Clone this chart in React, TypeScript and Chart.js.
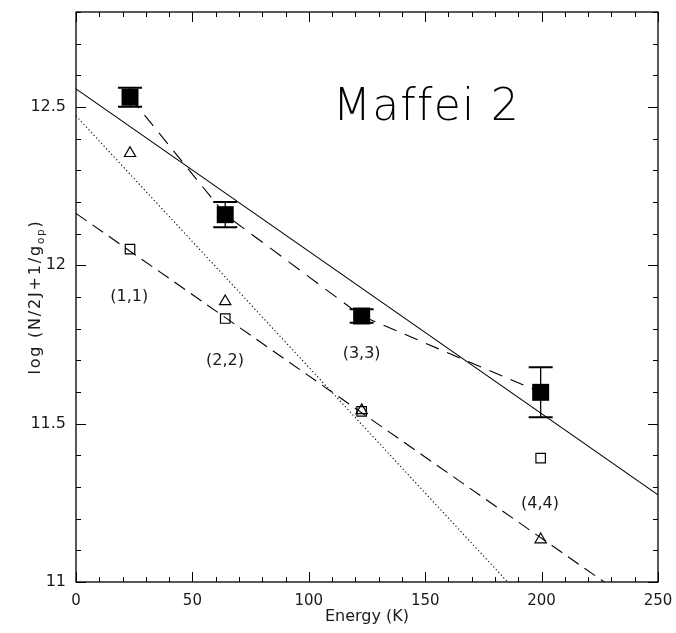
import React, { useEffect, useRef } from "react";
import { Chart, registerables } from "chart.js";

Chart.register(...registerables);

// ---- data ----
const energies = [23.2, 64.1, 122.7, 199.6]; // K
const totalLogN = [12.531, 12.16, 11.84, 11.599];
const totalErr = [0.03, 0.04, 0.021, 0.079];
const triangleLogN = [12.354, 11.886, 11.542, 11.134];
const squareLogN = [12.051, 11.832, 11.539, 11.391];

const solidFitX = [0, 250];
const solidFitY = [12.557, 11.275];
const dashedFitX = [0, 226.9];
const dashedFitY = [12.164, 11.0];
const dottedFitX = [0, 185.4];
const dottedFitY = [12.472, 11.0];

const transitionLabels = ["(1,1)", "(2,2)", "(3,3)", "(4,4)"];
const labelX = [22.9, 64.0, 122.7, 199.3];
const labelY = [11.9, 11.698, 11.722, 11.247];

const xTicks = [0, 50, 100, 150, 200, 250];
const yTicks = [11, 11.5, 12, 12.5];
const xMinorStep = 10;
const xMajorStep = 50;
const yMinorStep = 0.1;
const yMajorEvery = 5;

const titleText = "Maffei 2";
const titleX = 110.4;
const titleY = 12.458;

const FONT = '"DejaVu Sans", "Liberation Sans", sans-serif';
const TEXT = "#1a1a1a";
const W = "normal";

const toPts = (xs: number[], ys: number[]) => xs.map((x, i) => ({ x, y: ys[i] }));

const decorPlugin = {
  id: "decor",
  afterDatasetsDraw(chart: any) {
    const { ctx, scales } = chart;
    const x = scales.x;
    const y = scales.y;
    ctx.save();
    ctx.strokeStyle = "#000";
    energies.forEach((e, i) => {
      const px = x.getPixelForValue(e);
      const top = y.getPixelForValue(totalLogN[i] + totalErr[i]);
      const bot = y.getPixelForValue(totalLogN[i] - totalErr[i]);
      ctx.lineWidth = 1.3;
      ctx.beginPath();
      ctx.moveTo(px, top);
      ctx.lineTo(px, bot);
      ctx.stroke();
      ctx.lineWidth = 2;
      ctx.beginPath();
      ctx.moveTo(px - 12, top);
      ctx.lineTo(px + 12, top);
      ctx.moveTo(px - 12, bot);
      ctx.lineTo(px + 12, bot);
      ctx.stroke();
    });
    ctx.restore();
  },
  afterDraw(chart: any) {
    const { ctx, chartArea: a, scales } = chart;
    const x = scales.x;
    const y = scales.y;
    ctx.save();
    ctx.strokeStyle = "#000";
    ctx.lineWidth = 1.3;
    ctx.strokeRect(a.left, a.top, a.right - a.left, a.bottom - a.top);
    ctx.lineWidth = 1;
    ctx.beginPath();
    for (let v = x.min; v <= x.max + 1e-9; v += xMinorStep) {
      const px = Math.round(x.getPixelForValue(v)) + 0.5;
      const len = Math.abs(v % xMajorStep) < 1e-6 ? 10 : 5;
      ctx.moveTo(px, a.bottom);
      ctx.lineTo(px, a.bottom - len);
      ctx.moveTo(px, a.top);
      ctx.lineTo(px, a.top + len);
    }
    const n = Math.round((y.max - y.min) / yMinorStep);
    for (let i = 0; i <= n; i++) {
      const v = y.min + i * yMinorStep;
      const py = Math.round(y.getPixelForValue(v)) + 0.5;
      const len = i % yMajorEvery === 0 ? 10 : 5;
      ctx.moveTo(a.left, py);
      ctx.lineTo(a.left + len, py);
      ctx.moveTo(a.right, py);
      ctx.lineTo(a.right - len, py);
    }
    ctx.stroke();

    // transition labels
    ctx.fillStyle = TEXT;
    ctx.font = `${W} 16px ${FONT}`;
    ctx.textAlign = "center";
    ctx.textBaseline = "middle";
    transitionLabels.forEach((t, i) => {
      ctx.fillText(t, x.getPixelForValue(labelX[i]), y.getPixelForValue(labelY[i]));
    });

    // big title
    ctx.fillStyle = "#000";
    ctx.font = `300 44px ${FONT}`;
    ctx.textAlign = "left";
    ctx.textBaseline = "alphabetic";
    const natural = ctx.measureText(titleText).width;
    const target = 185;
    (ctx as any).letterSpacing = `${(target - natural) / (titleText.length - 1)}px`;
    ctx.fillText(titleText, x.getPixelForValue(titleX), y.getPixelForValue(titleY));
    (ctx as any).letterSpacing = "0px";

    // x title
    ctx.fillStyle = TEXT;
    ctx.font = `${W} 16px ${FONT}`;
    ctx.textAlign = "center";
    ctx.textBaseline = "middle";
    ctx.fillText("Energy (K)", (a.left + a.right) / 2, 617);

    // y title with subscript
    const main = "log (N/2J+1/g";
    const sub = "op";
    const close = ")";
    const mainFont = `${W} 16px ${FONT}`;
    const subFont = `${W} 10.5px ${FONT}`;
    const ls = 1.8;
    (ctx as any).letterSpacing = `${ls}px`;
    ctx.font = mainFont;
    const w1 = ctx.measureText(main).width;
    const w3 = ctx.measureText(close).width;
    ctx.font = subFont;
    const w2 = ctx.measureText(sub).width;
    const total = w1 + w2 + w3;
    ctx.translate(40, (a.top + a.bottom) / 2);
    ctx.rotate(-Math.PI / 2);
    ctx.textAlign = "left";
    ctx.textBaseline = "alphabetic";
    let cx = -total / 2;
    ctx.font = mainFont;
    ctx.fillText(main, cx, 0);
    cx += w1;
    ctx.font = subFont;
    ctx.fillText(sub, cx, 4);
    cx += w2;
    ctx.font = mainFont;
    ctx.fillText(close, cx, 0);
    (ctx as any).letterSpacing = "0px";
    ctx.restore();
  },
};

const zeroPad = (s: any) => {
  s.paddingTop = 0;
  s.paddingBottom = 0;
  s.paddingLeft = 0;
  s.paddingRight = 0;
};

export default function App() {
  const ref = useRef<HTMLCanvasElement | null>(null);
  useEffect(() => {
    if (!ref.current) return;
    const lineDs = (data: any[], dash: number[]) => ({
      data,
      showLine: true,
      pointRadius: 0,
      borderColor: "#000",
      borderWidth: 1.1,
      borderDash: dash,
      fill: false,
      tension: 0,
    });
    const chart = new Chart(ref.current, {
      type: "scatter",
      data: {
        datasets: [
          {
            label: "total",
            data: toPts(energies, totalLogN),
            pointStyle: "rect",
            pointRadius: 12,
            backgroundColor: "#000",
            borderColor: "#000",
            borderWidth: 0,
            showLine: false,
          } as any,
          {
            label: "triangles",
            data: toPts(energies, triangleLogN),
            pointStyle: "triangle",
            pointRadius: 6.5,
            backgroundColor: "rgba(0,0,0,0)",
            borderColor: "#000",
            borderWidth: 1.2,
            showLine: false,
          },
          {
            label: "squares",
            data: toPts(energies, squareLogN),
            pointStyle: "rect",
            pointRadius: 6.7,
            backgroundColor: "rgba(0,0,0,0)",
            borderColor: "#000",
            borderWidth: 1.2,
            showLine: false,
          },
          lineDs(toPts(energies, totalLogN), [14, 9]),
          lineDs(toPts(solidFitX, solidFitY), []),
          lineDs(toPts(dashedFitX, dashedFitY), [13, 7]),
          lineDs(toPts(dottedFitX, dottedFitY), [1.2, 2.5]),
        ] as any,
      },
      options: {
        animation: false,
        responsive: false,
        layout: { padding: { top: 8, right: 18, left: 0, bottom: 0 } },
        plugins: { legend: { display: false }, tooltip: { enabled: false } },
        scales: {
          x: {
            type: "linear",
            min: 0,
            max: 250,
            grid: { display: false, drawTicks: false },
            border: { display: false },
            afterBuildTicks: (s: any) => {
              s.ticks = xTicks.map((v) => ({ value: v }));
            },
            afterFit: (s: any) => {
              s.height = 51;
              zeroPad(s);
            },
            ticks: {
              padding: 10,
              color: TEXT,
              font: { family: FONT, size: 15, weight: W as any },
              maxRotation: 0,
              callback: (v: any) => String(v),
            },
          },
          y: {
            type: "linear",
            min: 11,
            max: 12.8,
            grid: { display: false, drawTicks: false },
            border: { display: false },
            afterBuildTicks: (s: any) => {
              s.ticks = yTicks.map((v) => ({ value: v }));
            },
            afterFit: (s: any) => {
              s.width = 76;
              zeroPad(s);
            },
            ticks: {
              padding: 10,
              color: TEXT,
              font: { family: FONT, size: 16, weight: W as any },
              callback: (v: any) => String(v),
            },
          },
        },
      },
      plugins: [decorPlugin],
    });
    return () => chart.destroy();
  }, []);
  return (
    <div style={{ position: "absolute", left: 0, top: 0, width: 676, height: 633, background: "#fff" }}>
      <canvas ref={ref} width={676} height={633} />
    </div>
  );
}
